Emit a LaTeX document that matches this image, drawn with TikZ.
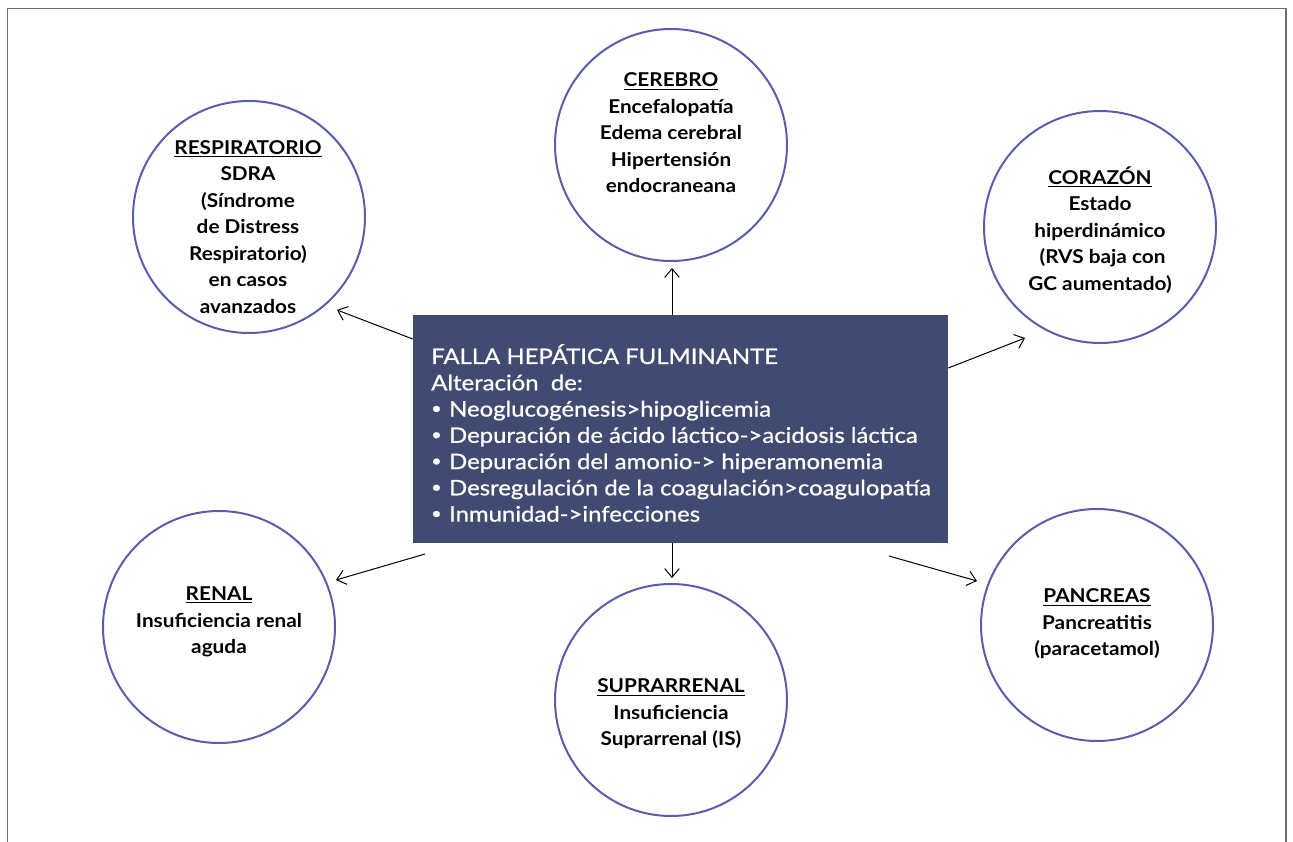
\documentclass[tikz,border=0pt]{standalone}
\usepackage{fontspec}
\setmainfont{Lato}
\newfontfamily\circfont[FakeStretch=1.09]{Lato}
\newfontfamily\boxfont[FakeStretch=1.12,FakeBold=0.8]{Lato}
\usetikzlibrary{arrows.meta}
\definecolor{ringblue}{HTML}{5A5EAA}
\definecolor{boxblue}{HTML}{414B72}
\definecolor{framegray}{HTML}{6E6E6E}
\tikzset{
  organ/.style={circle,draw=ringblue,line width=1.5pt,minimum size=174pt,inner sep=0pt},
  organtext/.style={align=center,font=\circfont\fontsize{14.3}{19.9}\selectfont\bfseries,text=black,inner sep=0pt},
  arr/.style={draw=black,line width=0.75pt,-{Straight Barb[length=6.5pt,width=11pt,line width=0.75pt]}},
}
\newcommand{\hd}[1]{\underline{#1}}
\newcommand{\bul}{\raisebox{0.13em}{\fontsize{12}{12}\selectfont •}\hspace{0.35em}}
\begin{document}
\begin{tikzpicture}[x=0.75pt,y=-0.75pt]
\useasboundingbox (0,0) rectangle (1293,842);
% frame
\draw[framegray,line width=1.2pt] (7.5,842) -- (7.5,8.5) -- (1286,8.5) -- (1286,842);
% central box
\node[fill=boxblue,minimum width=401.25pt,minimum height=171pt,inner sep=0pt] (box) at (680.5,429) {};
\node[anchor=west,align=left,text=white,font=\boxfont\fontsize{16}{19.7}\selectfont,inner sep=0pt] (boxtext) at (431,433)
 {FALLA HEPÁTICA FULMINANTE\\
  Alteración\ \ de:\\
  \bul Neoglucogénesis>hipoglicemia\\
  \bul Depuración de ácido láctico->acidosis láctica\\
  \bul Depuración del amonio-> hiperamonemia\\
  \bul Desregulación de la coagulación>coagulopatía\\
  \bul Inmunidad->infecciones};
% organ circles
\node[organ] (cerebro) at (671,145) {};
\node[organ] (resp) at (249,217) {};
\node[organ] (corazon) at (1100,227) {};
\node[organ] (renal) at (219,627) {};
\node[organ] (supra) at (671,700) {};
\node[organ] (pancreas) at (1097,625) {};
% texts
\node[organtext] (cerebroT) at (671,133) {\hd{CEREBRO}\\Encefalopatía\\Edema cerebral\\Hipertensión\\endocraneana};
\node[organtext] (respT) at (248,227) {\hd{RESPIRATORIO}\\SDRA\\(Síndrome\\de Distress\\Respiratorio)\\en casos\\avanzados};
\node[organtext] (corazonT) at (1100,230) {\hd{CORAZÓN}\\Estado\\hiperdinámico\\\ (RVS baja con\\GC aumentado)};
\node[organtext] (renalT) at (219,622) {\hd{RENAL}\\Insuficiencia renal\\aguda};
\node[organtext] (supraT) at (671,714) {\hd{SUPRARRENAL}\\Insuficiencia\\Suprarrenal (IS)};
\node[organtext] (pancreasT) at (1097,624) {\hd{PANCREAS}\\Pancreatitis\\(paracetamol)};
% arrow ends
\coordinate (tResp) at (337,310);
\coordinate (tCere) at (672,268);
\coordinate (tCora) at (1025,338);
\coordinate (tRena) at (336,580);
\coordinate (tSupr) at (672,578);
\coordinate (tPanc) at (977,581);
\coordinate (sRena) at (425,554);
\coordinate (sPanc) at (889,556);
% connectors
\draw[arr] (box.west |- 0,339) -- (tResp);
\draw[arr] (box.north -| tCere) -- (tCere);
\draw[arr] (box.east |- 0,368) -- (tCora);
\draw[arr] (sRena) -- (tRena);
\draw[arr] (box.south -| tSupr) -- (tSupr);
\draw[arr] (sPanc) -- (tPanc);
\end{tikzpicture}
\end{document}
